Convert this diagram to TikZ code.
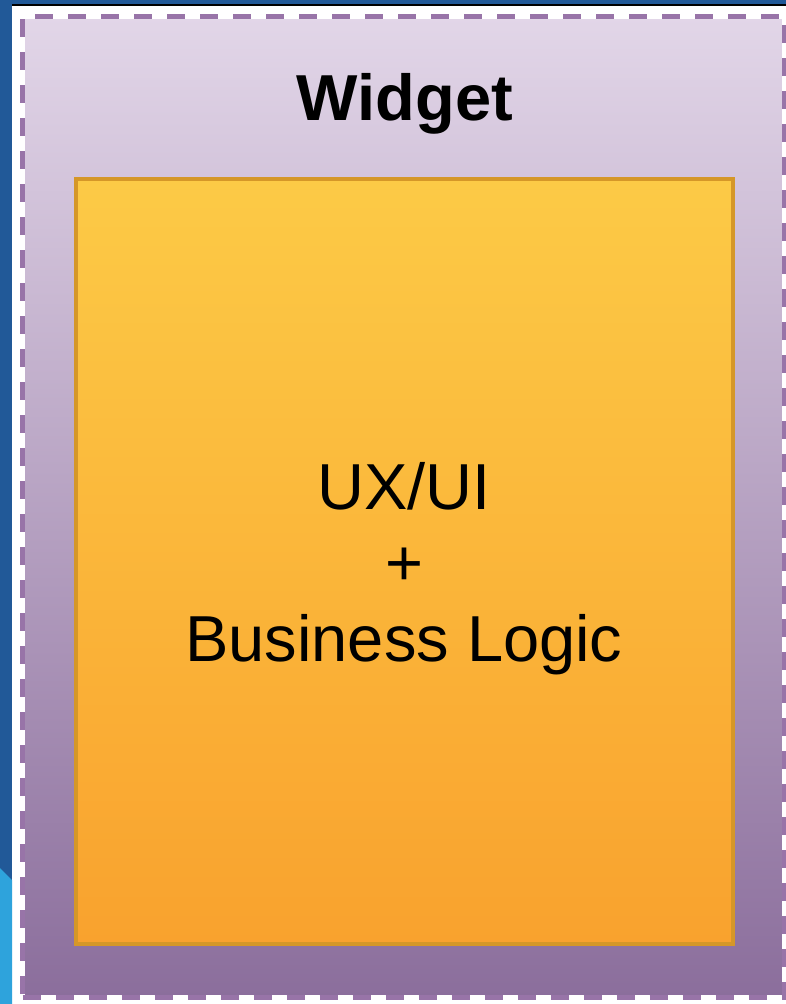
\documentclass[tikz,border=0pt]{standalone}
\usepackage{fontspec}
\setmainfont{Liberation Sans}
\usepackage{xcolor}
\usepackage{tikz}
\definecolor{deskblue}{RGB}{33,89,152}
\definecolor{desklight}{RGB}{46,163,220}
\definecolor{widgtop}{RGB}{226,214,232}
\definecolor{widgbot}{RGB}{139,110,156}
\definecolor{widgline}{RGB}{152,116,168}
\definecolor{coretop}{RGB}{252,202,70}
\definecolor{corebot}{RGB}{249,162,46}
\definecolor{coreline}{RGB}{213,151,40}

\begin{document}
\begin{tikzpicture}
[x=1pt,y=-1pt,
widg/.style={rectangle,inner sep=0pt,outer sep=0pt,minimum width=762pt,minimum height=981pt,top color=widgtop,bottom color=widgbot,
  postaction={draw=white,line width=5pt},
  postaction={draw=widgline,line width=5pt,dash pattern=on 18pt off 15pt}},
core/.style={rectangle,inner sep=0pt,outer sep=0pt,minimum width=657pt,minimum height=765pt,top color=coretop,bottom color=corebot,draw=coreline,line width=4pt},
title/.style={font=\fontsize{65}{78}\selectfont\bfseries,anchor=base},
body/.style={font=\fontsize{65}{76}\selectfont,align=center}]

\useasboundingbox (0,0) rectangle (786,1004);
\fill[white] (0,0) rectangle (786,1004);
\fill[deskblue] (0,0) rectangle (786,4);
\fill[deskblue] (0,0) rectangle (12,1004);
\fill[desklight] (0,868) -- (12,880) -- (12,1004) -- (0,1004) -- cycle;
\fill[black] (12,4) rectangle (786,6);

\node at (403.5,506.5) [widg]  (widget)    {};
\node at (405,120)     [title] (widgname)  {Widget};
\node at (404.5,561.5) [core]  (core)      {};
\node at (404,569)     [body]  (corename)  {UX/UI\\+\\Business Logic};
\end{tikzpicture}
\end{document}
